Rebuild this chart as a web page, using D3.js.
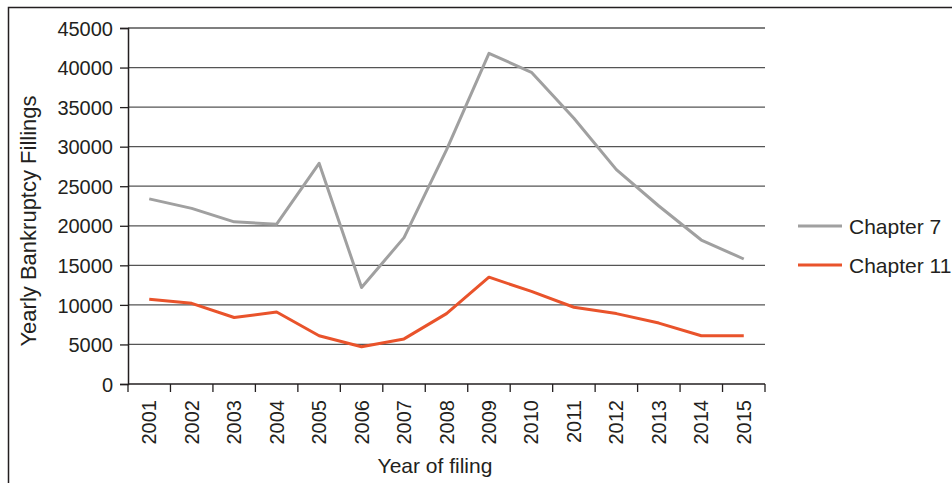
<!DOCTYPE html>
<html>
<head>
<meta charset="utf-8">
<script src="https://cdn.jsdelivr.net/npm/d3@7"></script>
<style>
body { margin: 0; background: #fff; }
text { font-family: "Liberation Sans", Arial, sans-serif; fill: #231f20; }
</style>
</head>
<body>
<script>
var years = ['2001', '2002', '2003', '2004', '2005', '2006', '2007', '2008',
             '2009', '2010', '2011', '2012', '2013', '2014', '2015']
var chapter7 = [23400, 22200, 20500, 20200, 27900, 12200, 18500, 29600,
                41800, 39400, 33600, 27100, 22500, 18200, 15800]
var chapter11 = [10700, 10200, 8400, 9100, 6100, 4700, 5700, 8900,
                 13500, 11700, 9700, 8900, 7700, 6100, 6100]
var yTicks = [0, 5000, 10000, 15000, 20000, 25000, 30000, 35000, 40000, 45000]
var seriesNames = ['Chapter 7', 'Chapter 11']
var colors = ['#a0a0a0', '#e9532b']

var width = 952
var height = 483
var margin = {left: 128, right: 187, top: 28, bottom: 99}

var svg = d3.select('body')
            .append('svg')
            .attr('width', width)
            .attr('height', height);

// outer frame (right and bottom edges run off the page)
svg.append('rect')
   .attr('x', 8.5).attr('y', 7.5)
   .attr('width', 960).attr('height', 500)
   .attr('fill', 'none')
   .attr('stroke', '#231f20')
   .attr('stroke-width', 1.5);

var x = d3.scaleBand()
          .domain(years)
          .range([margin.left, width - margin.right]);

var y = d3.scaleLinear()
          .domain([0, 45000])
          .range([height - margin.bottom, margin.top]);

// gridlines
svg.append('g')
   .selectAll('line')
   .data(yTicks.slice(1))
   .enter().append('line')
   .attr('x1', margin.left)
   .attr('x2', width - margin.right)
   .attr('y1', function(d){ return y(d); })
   .attr('y2', function(d){ return y(d); })
   .attr('stroke', '#555')
   .attr('stroke-width', 1.3);

// y axis
var yAxis = svg.append('g')
   .attr('transform', 'translate(' + margin.left + ',0)')
   .call(d3.axisLeft(y).tickValues(yTicks).tickSize(8).tickPadding(7).tickFormat(d3.format('d')));
yAxis.select('.domain').attr('stroke', '#231f20').attr('stroke-width', 1.5);
yAxis.selectAll('.tick line').attr('stroke', '#231f20').attr('stroke-width', 1.3);
yAxis.selectAll('text')
     .attr('font-size', '20px')
     .attr('font-family', '"Liberation Sans", Arial, sans-serif')
     .attr('fill', '#231f20')
     .attr('dy', '0.36em');

// x axis, ticks at band edges
var xAxisG = svg.append('g')
   .attr('transform', 'translate(0,' + y(0) + ')');
xAxisG.append('line')
   .attr('x1', margin.left).attr('x2', width - margin.right)
   .attr('stroke', '#231f20').attr('stroke-width', 1.5);
var edges = years.map(function(d){ return x(d); }).concat([width - margin.right]);
xAxisG.selectAll('line.tk')
   .data(edges)
   .enter().append('line')
   .attr('class', 'tk')
   .attr('x1', function(d){ return d; })
   .attr('x2', function(d){ return d; })
   .attr('y1', 0).attr('y2', 8)
   .attr('stroke', '#231f20').attr('stroke-width', 1.3);
xAxisG.selectAll('text')
   .data(years)
   .enter().append('text')
   .attr('transform', function(d){
       return 'translate(' + (x(d) + x.bandwidth() / 2 + 7) + ',16) rotate(-90)';
   })
   .attr('text-anchor', 'end')
   .attr('font-size', '20px')
   .text(function(d){ return d; });

// lines
var line = d3.line()
   .x(function(d, i){ return x(years[i]) + x.bandwidth() / 2; })
   .y(function(d){ return y(d); });

[chapter7, chapter11].forEach(function(series, i){
    svg.append('path')
       .datum(series)
       .attr('fill', 'none')
       .attr('stroke', colors[i])
       .attr('stroke-width', 3)
       .attr('stroke-linejoin', 'round')
       .attr('d', line);
});

// axis titles
svg.append('text')
   .attr('x', 435)
   .attr('y', 473)
   .attr('text-anchor', 'middle')
   .attr('font-size', '21px')
   .text('Year of filing');

svg.append('text')
   .attr('transform', 'translate(36,221) rotate(-90)')
   .attr('text-anchor', 'middle')
   .attr('font-size', '22px')
   .text('Yearly Bankruptcy Fillings');

// legend
var legend = svg.selectAll('g.legend')
   .data(seriesNames)
   .enter().append('g')
   .attr('class', 'legend')
   .attr('transform', function(d, i){
       return 'translate(798,' + (226 + i * 39) + ')';
   });
legend.append('line')
   .attr('x1', 0).attr('x2', 44)
   .attr('stroke', function(d, i){ return colors[i]; })
   .attr('stroke-width', 3);
legend.append('text')
   .attr('x', 51)
   .attr('dy', '0.36em')
   .attr('font-size', '21px')
   .text(function(d){ return d; });
</script>
</body>
</html>
